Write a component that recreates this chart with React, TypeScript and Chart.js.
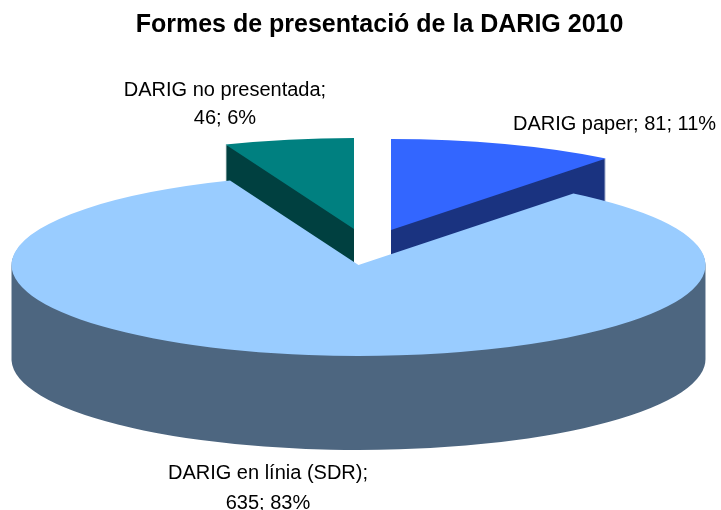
import React, { useEffect, useRef } from "react";
import { Chart, registerables } from "chart.js";

Chart.register(...registerables);

const chartTitle = "Formes de presentació de la DARIG 2010";
const categories = ["DARIG paper", "DARIG en línia (SDR)", "DARIG no presentada"];
const values = [81, 635, 46];

const topColors = ["#3366FF", "#99CCFF", "#008080"];
const wallColors = ["#1A3380", "#4D6680", "#004040"];

// Projection of the (circular) library pie on the page
const RX = 347;
const RY = 91;
const DEPTH = 94;
const centers = [
  { x: 391, y: 230 },
  { x: 358.5, y: 265 },
  { x: 354, y: 229 },
];
const drawOrder = [2, 0, 1];
const labelLayout = [
  { x: 614.5, y: 124, breakAfter: 3, line: 0 },
  { x: 268, y: 473, breakAfter: 1, line: 30 },
  { x: 225, y: 90, breakAfter: 1, line: 28 },
];

const pie3d = {
  id: "pie3d",
  beforeDatasetsDraw(chart: any) {
    const ctx = chart.ctx;
    const arcs = chart.getDatasetMeta(0).data;
    for (const i of drawOrder) {
      const arc = arcs[i];
      const R = arc.outerRadius;
      const place = (dy: number) => {
        ctx.translate(centers[i].x, centers[i].y + dy);
        ctx.scale(RX / R, RY / R);
        ctx.translate(-arc.x, -arc.y);
      };
      ctx.fillStyle = wallColors[i];
      ctx.beginPath();
      for (let d = DEPTH; d > 0; d -= 1) {
        ctx.save();
        place(d);
        ctx.moveTo(arc.x, arc.y);
        ctx.arc(arc.x, arc.y, R, arc.startAngle, arc.endAngle);
        ctx.closePath();
        ctx.restore();
      }
      ctx.fill();
      ctx.save();
      place(0);
      arc.draw(ctx);
      ctx.restore();
    }
    return false;
  },
  afterDraw(chart: any) {
    const ctx = chart.ctx;
    const total = values.reduce((a, b) => a + b, 0);
    ctx.save();
    ctx.fillStyle = "#000";
    ctx.font = "20px 'Liberation Sans'";
    ctx.textAlign = "center";
    ctx.textBaseline = "middle";
    categories.forEach((name, i) => {
      const parts = [name, String(values[i]), Math.round((values[i] / total) * 100) + "%"];
      const l = labelLayout[i];
      const first = parts.slice(0, l.breakAfter).join("; ") + (l.breakAfter < 3 ? ";" : "");
      const second = parts.slice(l.breakAfter).join("; ");
      ctx.fillText(first, l.x, l.y);
      if (second) ctx.fillText(second, l.x, l.y + l.line);
    });
    ctx.restore();
  },
};

export default function App() {
  const ref = useRef<HTMLCanvasElement>(null);
  useEffect(() => {
    const chart = new Chart(ref.current as HTMLCanvasElement, {
      type: "pie",
      data: {
        labels: categories,
        datasets: [{ data: values, backgroundColor: topColors, borderWidth: 0 }],
      },
      options: {
        responsive: false,
        animation: false,
        layout: { padding: { left: 38, top: 10 } },
        plugins: {
          legend: { display: false },
          tooltip: { enabled: false },
          title: {
            display: true,
            text: chartTitle,
            color: "#000",
            font: { family: "'Liberation Sans'", size: 25, weight: "bold" },
            padding: 0,
          },
        },
      },
      plugins: [pie3d],
    } as any);
    return () => chart.destroy();
  }, []);
  return (
    <div style={{ position: "absolute", left: 0, top: 0, width: 721, height: 510, background: "#fff" }}>
      <canvas ref={ref} width={721} height={510} style={{ display: "block" }} />
    </div>
  );
}
